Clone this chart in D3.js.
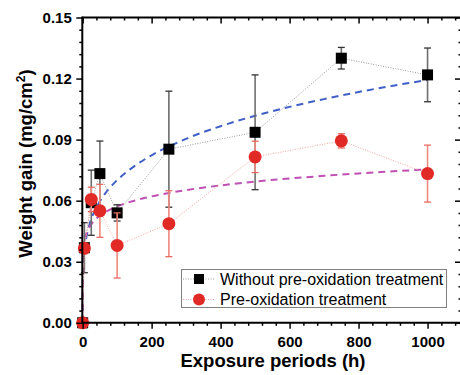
<!DOCTYPE html>
<html><head><meta charset="utf-8">
<script src="https://cdn.jsdelivr.net/npm/d3@7"></script>
<style>
html,body{margin:0;padding:0;background:#fff;}
svg{display:block;font-family:"Liberation Sans",Arial,sans-serif;}
</style></head>
<body><svg id="c" width="460" height="375"></svg>
<script>
// ---- data ----
const times = [0, 5, 25, 50, 100, 250, 500, 750, 1000];
const withoutVals = [0, 0.0369, 0.0590, 0.0733, 0.0540, 0.0853, 0.0936, 0.1300, 0.1218];
const withoutErr  = [0, 0.0123, 0.0160, 0.0160, 0.0040, 0.0285, 0.0282, 0.0053, 0.0132];
const preVals = [0, 0.0366, 0.0606, 0.0550, 0.0380, 0.0487, 0.0815, 0.0894, 0.0733];
const preErr  = [0, 0.0020, 0.0060, 0.0130, 0.0160, 0.0162, 0.0077, 0.0035, 0.0140];
// fitted trend curves
const fitTimes = [0, 1, 2, 5, 10, 20, 35, 50, 75, 100, 150, 200, 300, 400, 500, 600, 700, 800, 900, 1000];
const fitWithout = [0, 0.0242, 0.0284, 0.0351, 0.0412, 0.0484, 0.0550, 0.0597, 0.0656, 0.0701, 0.0770, 0.0823, 0.0904, 0.0966, 0.1017, 0.1061, 0.1099, 0.1134, 0.1165, 0.1193];
const fitPre = [0, 0.0329, 0.0358, 0.0399, 0.0434, 0.0471, 0.0504, 0.0526, 0.0552, 0.0572, 0.0600, 0.0621, 0.0652, 0.0675, 0.0694, 0.0709, 0.0722, 0.0734, 0.0744, 0.0754];
const xTicks = [0, 200, 400, 600, 800, 1000];
const yTicks = [0, 0.03, 0.06, 0.09, 0.12, 0.15];
const seriesNames = ["Without pre-oxidation treatment", "Pre-oxidation treatment"];

// ---- scales ----
const svg = d3.select("#c");
const L = 82.3, R = 461, T = 17.5, B = 322.8;
const x = d3.scaleLinear().domain([-1, 1097]).range([L, R]);
const y = d3.scaleLinear().domain([0, 0.15]).range([B, T]);

const xMinor = d3.range(0, 1097, 40).filter(v => v % 200 !== 0);
const yMinor = d3.range(0, 0.1501, 0.006).filter(v => Math.abs(v / 0.03 - Math.round(v / 0.03)) > 1e-6);

// ---- fits ----
const fitLine = d3.line().x(d => x(d[0])).y(d => y(d[1])).curve(d3.curveMonotoneX);
svg.append("path").datum(fitTimes.map((t, i) => [t, fitWithout[i]]))
  .attr("d", fitLine).attr("fill", "none").attr("stroke", "#4060c8")
  .attr("stroke-width", 2).attr("stroke-dasharray", "7,5");
svg.append("path").datum(fitTimes.map((t, i) => [t, fitPre[i]]))
  .attr("d", fitLine).attr("fill", "none").attr("stroke", "#c050b4")
  .attr("stroke-width", 2).attr("stroke-dasharray", "7,5");

// ---- series ----
const line = d3.line().x(d => x(d[0])).y(d => y(d[1]));
function drawSeries(vals, errs, lineColor, errColor, capColor, kind, color) {
  const pts = times.map((t, i) => [t, vals[i], errs[i]]);
  svg.append("path").datum(pts).attr("d", line).attr("fill", "none")
    .attr("stroke", lineColor).attr("stroke-width", 1).attr("stroke-dasharray", "1,1.5");
  const eb = svg.append("g");
  pts.filter(p => p[2] > 0).forEach(p => {
    const cx = x(p[0]);
    eb.append("line").attr("x1", cx).attr("x2", cx).attr("y1", y(p[1] - p[2])).attr("y2", y(p[1] + p[2]))
      .attr("stroke", errColor).attr("stroke-width", 1.6);
    [p[1] - p[2], p[1] + p[2]].forEach(v => {
      eb.append("line").attr("x1", cx - 3.5).attr("x2", cx + 3.5).attr("y1", y(v)).attr("y2", y(v))
        .attr("stroke", capColor).attr("stroke-width", 1.3);
    });
  });
  const mk = svg.append("g");
  pts.forEach(p => {
    if (kind === "square") {
      mk.append("rect").attr("x", x(p[0]) - 5.5).attr("y", y(p[1]) - 5.5)
        .attr("width", 11).attr("height", 11).attr("fill", color);
    } else {
      mk.append("circle").attr("cx", x(p[0])).attr("cy", y(p[1])).attr("r", 6.5).attr("fill", color);
    }
  });
}
drawSeries(withoutVals, withoutErr, "#9a9a9a", "#6e6e6e", "#333", "square", "#000");
drawSeries(preVals, preErr, "#f5a8a0", "#f08a80", "#e86a60", "circle", "#e12a26");

// ---- axes ----
const ax = svg.append("g");
function tickSet(g, axis) { g.call(axis); g.select(".domain").remove(); g.selectAll("line").attr("stroke", "#000").attr("stroke-width", 1.5); }
// bottom
ax.append("g").attr("transform", `translate(0,${B})`)
  .call(g => tickSet(g, d3.axisBottom(x).tickValues(xTicks).tickSize(6).tickFormat(d3.format("d"))))
  .call(g => g.selectAll("text").attr("font-size", 15).attr("font-weight", "bold").attr("fill", "#000").attr("dy", "1.05em").attr("y", 8));
ax.append("g").attr("transform", `translate(0,${B})`)
  .call(g => tickSet(g, d3.axisBottom(x).tickValues(xMinor).tickSize(3).tickFormat("")));
// top
ax.append("g").attr("transform", `translate(0,${T})`)
  .call(g => tickSet(g, d3.axisBottom(x).tickValues(xTicks).tickSize(6).tickFormat("")));
ax.append("g").attr("transform", `translate(0,${T})`)
  .call(g => tickSet(g, d3.axisBottom(x).tickValues(xMinor).tickSize(3).tickFormat("")));
// left
ax.append("g").attr("transform", `translate(${L},0)`)
  .call(g => tickSet(g, d3.axisLeft(y).tickValues(yTicks).tickSize(6).tickFormat(d3.format(".2f"))))
  .call(g => g.selectAll("text").attr("font-size", 15).attr("font-weight", "bold").attr("fill", "#000").attr("x", -10.5));
ax.append("g").attr("transform", `translate(${L},0)`)
  .call(g => tickSet(g, d3.axisLeft(y).tickValues(yMinor).tickSize(3).tickFormat("")));
// right
ax.append("g").attr("transform", `translate(${R},0)`)
  .call(g => tickSet(g, d3.axisLeft(y).tickValues(yTicks).tickSize(6).tickFormat("")));
ax.append("g").attr("transform", `translate(${R},0)`)
  .call(g => tickSet(g, d3.axisLeft(y).tickValues(yMinor).tickSize(2.5).tickFormat("")));
// frame
ax.append("line").attr("x1", L).attr("x2", R).attr("y1", B).attr("y2", B).attr("stroke", "#000").attr("stroke-width", 2);
ax.append("line").attr("x1", L).attr("x2", R).attr("y1", T).attr("y2", T).attr("stroke", "#000").attr("stroke-width", 2);
ax.append("line").attr("x1", L).attr("x2", L).attr("y1", T - 1).attr("y2", B + 1).attr("stroke", "#000").attr("stroke-width", 2);
ax.append("line").attr("x1", R).attr("x2", R).attr("y1", T - 1).attr("y2", B + 1).attr("stroke", "#000").attr("stroke-width", 2);

// ---- titles ----
svg.append("text").attr("x", 273).attr("y", 367).attr("text-anchor", "middle")
  .attr("font-size", 18.5).attr("font-weight", "bold").text("Exposure periods (h)");
const yt = svg.append("text").attr("transform", "translate(31.5,163.5) rotate(-90)").attr("text-anchor", "middle")
  .attr("font-size", 18.5).attr("font-weight", "bold");
yt.append("tspan").text("Weight gain (mg/cm");
yt.append("tspan").attr("font-size", 12).attr("dy", -7).text("2");
yt.append("tspan").attr("dy", 7).text(")");

// ---- legend ----
const lg = svg.append("g");
lg.append("rect").attr("x", 181.5).attr("y", 269.5).attr("width", 265).attr("height", 38)
  .attr("fill", "#fff").attr("stroke", "#808080").attr("stroke-width", 1);
const rowsY = [279, 299.5];
lg.append("line").attr("x1", 183).attr("x2", 215).attr("y1", rowsY[0]).attr("y2", rowsY[0])
  .attr("stroke", "#9a9a9a").attr("stroke-width", 1).attr("stroke-dasharray", "1,1.5");
lg.append("rect").attr("x", 199 - 5).attr("y", rowsY[0] - 5).attr("width", 10).attr("height", 10).attr("fill", "#000");
lg.append("line").attr("x1", 183).attr("x2", 215).attr("y1", rowsY[1]).attr("y2", rowsY[1])
  .attr("stroke", "#f5a8a0").attr("stroke-width", 1).attr("stroke-dasharray", "1,1.5");
lg.append("circle").attr("cx", 199).attr("cy", rowsY[1]).attr("r", 6).attr("fill", "#e12a26");
seriesNames.forEach((n, i) => {
  lg.append("text").attr("x", 220).attr("y", rowsY[i] + 5.6).attr("font-size", 16).attr("fill", "#000").text(n);
});
</script></body></html>
